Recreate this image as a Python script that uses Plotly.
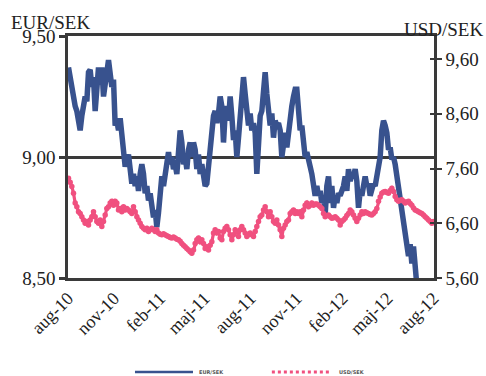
import pandas as pd
import plotly.graph_objects as go

# EUR/SEK and USD/SEK, sampled every 80 hours from 2 Aug 2010
eur_sek = [
    9.37, 9.32, 9.29, 9.26, 9.21, 9.19, 9.14, 9.11, 9.17, 9.21, 9.25, 9.23, 9.35, 9.36, 9.29, 9.33,
    9.19, 9.28, 9.37, 9.30, 9.37, 9.25, 9.32, 9.35, 9.40, 9.36, 9.29, 9.32, 9.13, 9.15, 9.11, 9.16,
    9.10, 9.03, 8.96, 8.99, 9.01, 8.95, 8.89, 8.93, 8.88, 8.92, 8.86, 8.93, 8.97, 8.93, 8.85, 8.88,
    8.82, 8.85, 8.79, 8.75, 8.78, 8.71, 8.77, 8.84, 8.92, 8.88, 8.93, 8.97, 9.02, 8.97, 9.00, 8.95,
    8.97, 8.93, 9.03, 9.11, 9.06, 8.97, 9.00, 8.95, 9.03, 9.06,
    9.00, 9.06, 9.03, 8.95, 9.01, 8.93, 8.97, 8.92, 8.88, 8.89, 8.97, 9.04, 9.11, 9.17, 9.19, 9.14,
    9.18, 9.25, 9.21, 9.06, 9.18, 9.21, 9.15, 9.25, 9.17, 9.07, 9.11, 9.00, 9.08, 9.17, 9.26, 9.33,
    9.26, 9.21, 9.13, 9.18, 9.11, 9.14, 9.10, 8.93, 9.07, 9.17, 9.19, 9.30, 9.35, 9.26, 9.21, 9.13,
    9.18, 9.08, 9.15, 9.13, 9.14, 9.11, 9.00, 9.06, 9.10, 9.04, 9.11, 9.17, 9.21, 9.25, 9.28, 9.28,
    9.19, 9.11, 9.13, 9.06, 9.00, 9.02, 8.97, 8.96, 8.93, 8.88, 8.84,
    8.88, 8.84, 8.86, 8.81, 8.84, 8.76, 8.88, 8.92, 8.81, 8.88, 8.79, 8.84, 8.81, 8.85, 8.84, 8.86,
    8.88, 8.92, 8.86, 8.95, 8.90, 8.93, 8.92, 8.95, 8.90, 8.79, 8.86, 8.84, 8.90, 8.92, 8.88, 8.89,
    8.84, 8.88, 8.89, 8.88, 8.92, 8.93, 9.00, 9.11, 9.15, 9.13, 9.10, 9.03, 9.04, 8.99, 9.00, 8.97,
    8.92, 8.86, 8.81, 8.75, 8.71, 8.67, 8.64, 8.59, 8.64, 8.56, 8.63, 8.56, 8.47,
]
usd_sek = [
    7.42, 7.35, 7.27, 7.15, 6.97, 6.90, 6.81, 6.78, 6.72, 6.66, 6.60, 6.63, 6.57, 6.66, 6.72, 6.81,
    6.72, 6.63, 6.60, 6.66, 6.54, 6.63, 6.75, 6.87, 6.90, 6.97, 7.00, 6.93, 7.00, 6.97, 6.84, 6.87,
    6.81, 6.90, 6.84, 6.87, 6.84, 6.81, 6.78, 6.90, 6.81, 6.72, 6.66, 6.60, 6.54, 6.51, 6.48, 6.51,
    6.45, 6.48, 6.51, 6.48, 6.45, 6.48, 6.42, 6.40, 6.39, 6.41, 6.39, 6.37, 6.36, 6.34, 6.33, 6.35,
    6.33, 6.31, 6.30, 6.27, 6.23, 6.20, 6.17, 6.14, 6.11, 6.08,
    6.05, 6.11, 6.23, 6.30, 6.33, 6.26, 6.30, 6.23, 6.14, 6.17, 6.11, 6.20, 6.26, 6.42, 6.48, 6.42,
    6.45, 6.33, 6.30, 6.45, 6.51, 6.54, 6.48, 6.39, 6.30, 6.39, 6.48, 6.45, 6.36, 6.48, 6.54, 6.48,
    6.42, 6.36, 6.39, 6.42, 6.39, 6.36, 6.45, 6.54, 6.63, 6.72, 6.75, 6.84, 6.90, 6.81, 6.72, 6.81,
    6.72, 6.63, 6.60, 6.66, 6.57, 6.48, 6.36, 6.51, 6.57, 6.63, 6.66, 6.78, 6.81, 6.84, 6.78, 6.81,
    6.78, 6.81, 6.72, 6.84, 6.93, 6.97, 6.90, 6.93, 6.97, 6.93, 6.95,
    6.95, 6.93, 6.90, 6.87, 6.78, 6.72, 6.74, 6.75, 6.72, 6.69, 6.70, 6.72, 6.69, 6.66, 6.57, 6.63,
    6.66, 6.69, 6.74, 6.78, 6.84, 6.81, 6.75, 6.69, 6.63, 6.69, 6.75, 6.81, 6.78, 6.81, 6.79, 6.78,
    6.76, 6.75, 6.78, 6.81, 6.87, 7.00, 7.08, 7.15, 7.17, 7.18, 7.16, 7.15, 7.20, 7.24, 7.18, 7.09,
    7.03, 7.00, 7.02, 7.03, 7.00, 6.97, 6.99, 7.00, 6.96, 6.93, 6.88, 6.84, 6.83, 6.81, 6.79, 6.78,
    6.75, 6.72, 6.69, 6.66, 6.63, 6.60, 6.63,
]
tick_dates = ["2010-08-01", "2010-11-01", "2011-02-01", "2011-05-01", "2011-08-01",
              "2011-11-01", "2012-02-01", "2012-05-01", "2012-08-01"]
tick_labels = ["aug-10", "nov-10", "feb-11", "maj-11", "aug-11",
               "nov-11", "feb-12", "maj-12", "aug-12"]
eur_ticks = [8.5, 9.0, 9.5]
usd_ticks = [5.6, 6.6, 7.6, 8.6, 9.6]

eur_dates = pd.date_range("2010-08-02", periods=len(eur_sek), freq="80h")
usd_dates = pd.date_range("2010-08-02", periods=len(usd_sek), freq="80h")

BLUE = "#38528E"
PINK = "#F0507F"
AXIS = "#3a3a3a"
FONT = "Liberation Serif"

fig = go.Figure()
fig.add_trace(go.Scatter(x=eur_dates, y=eur_sek, mode="lines", name="EUR/SEK",
                         line=dict(color=BLUE, width=5.5), yaxis="y"))
fig.add_trace(go.Scatter(x=usd_dates, y=usd_sek, mode="lines+markers", name="USD/SEK",
                         line=dict(color=PINK, width=3.2),
                         marker=dict(color=PINK, size=5.5, line=dict(width=0)), yaxis="y2"))
# empty trace carrying the inward half of the right-hand tick marks
fig.add_trace(go.Scatter(x=[], y=[], yaxis="y3", showlegend=False))

fig.update_layout(
    width=486, height=376, autosize=False,
    margin=dict(l=68, r=52, t=36, b=98),
    paper_bgcolor="white", plot_bgcolor="white",
    separators=", ",
    showlegend=False,
    font=dict(family=FONT, size=19, color="#222"),
    xaxis=dict(
        type="date", range=["2010-08-01", "2012-08-02"], automargin=False,
        tickvals=tick_dates, ticktext=tick_labels, tickangle=-45,
        showline=True, mirror=True, linecolor=AXIS, linewidth=2.5,
        showgrid=False, zeroline=False, ticks="",
        tickfont=dict(family=FONT, size=18, color="#222"),
    ),
    yaxis=dict(
        range=[8.5, 9.5], tickvals=eur_ticks, tickformat=".2f", automargin=False,
        showline=True, linecolor=AXIS, linewidth=2.5,
        ticks="outside", ticklen=6, tickwidth=2.5, tickcolor=AXIS,
        showgrid=True, gridcolor=AXIS, gridwidth=2.5, zeroline=False,
        tickfont=dict(family=FONT, size=19, color="#222"),
    ),
    yaxis2=dict(
        range=[5.6, 10.02], tickvals=usd_ticks, tickformat=".2f", automargin=False,
        overlaying="y", side="right",
        showline=True, linecolor=AXIS, linewidth=2.5,
        ticks="outside", ticklen=5, tickwidth=2, tickcolor=AXIS,
        showgrid=False, zeroline=False,
        tickfont=dict(family=FONT, size=19, color="#222"),
    ),
    yaxis3=dict(
        range=[5.6, 10.02], tickvals=usd_ticks, automargin=False,
        overlaying="y", side="right", anchor="x",
        showline=False, showticklabels=False,
        ticks="inside", ticklen=4, tickwidth=2, tickcolor=AXIS,
        showgrid=False, zeroline=False,
    ),
)

# axis titles
fig.add_annotation(text="EUR/SEK", xref="paper", yref="paper", x=-0.16, y=1.006,
                   xanchor="left", yanchor="bottom", showarrow=False,
                   font=dict(family=FONT, size=19, color="#222"))
fig.add_annotation(text="USD/SEK", xref="paper", yref="paper", x=1.14, y=0.974,
                   xanchor="right", yanchor="bottom", showarrow=False,
                   font=dict(family=FONT, size=19, color="#222"))

# legend row at the bottom
leg_y = -0.388
fig.add_shape(type="line", xref="paper", yref="paper", x0=0.183, x1=0.3415, y0=leg_y, y1=leg_y,
              line=dict(color=BLUE, width=2.5))
fig.add_annotation(text="<b>EUR/SEK</b>", xref="paper", yref="paper", x=0.352, y=leg_y,
                   xanchor="left", yanchor="middle", showarrow=False,
                   font=dict(family="DejaVu Sans", size=5, color="#555"))
fig.add_shape(type="line", xref="paper", yref="paper", x0=0.557, x1=0.716, y0=leg_y, y1=leg_y,
              line=dict(color=PINK, width=3, dash="dot"))
fig.add_annotation(text="<b>USD/SEK</b>", xref="paper", yref="paper", x=0.735, y=leg_y,
                   xanchor="left", yanchor="middle", showarrow=False,
                   font=dict(family="DejaVu Sans", size=5, color="#555"))

fig.write_html("out.html")
